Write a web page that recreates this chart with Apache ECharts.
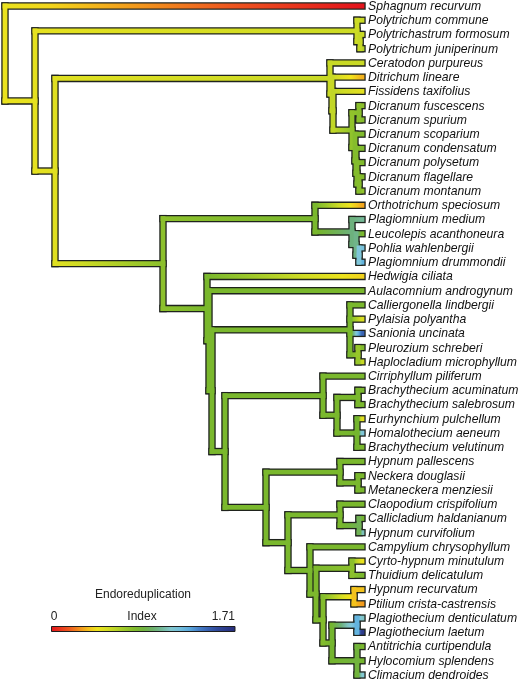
<!DOCTYPE html>
<html>
<head>
<meta charset="utf-8">
<script src="https://cdn.jsdelivr.net/npm/echarts@6/dist/echarts.min.js"></script>
<style>
  html, body { margin: 0; padding: 0; background: #fff; }
  #main { width: 520px; height: 683px; }
</style>
</head>
<body>
<div id="main"></div>
<script>
// tips, top to bottom
var leafNames = [
  'Sphagnum recurvum', 'Polytrichum commune', 'Polytrichastrum formosum', 'Polytrichum juniperinum',
  'Ceratodon purpureus', 'Ditrichum lineare', 'Fissidens taxifolius', 'Dicranum fuscescens',
  'Dicranum spurium', 'Dicranum scoparium', 'Dicranum condensatum', 'Dicranum polysetum',
  'Dicranum flagellare', 'Dicranum montanum', 'Orthotrichum speciosum', 'Plagiomnium medium',
  'Leucolepis acanthoneura', 'Pohlia wahlenbergii', 'Plagiomnium drummondii', 'Hedwigia ciliata',
  'Aulacomnium androgynum', 'Calliergonella lindbergii', 'Pylaisia polyantha', 'Sanionia uncinata',
  'Pleurozium schreberi', 'Haplocladium microphyllum', 'Cirriphyllum piliferum', 'Brachythecium acuminatum',
  'Brachythecium salebrosum', 'Eurhynchium pulchellum', 'Homalothecium aeneum', 'Brachythecium velutinum',
  'Hypnum pallescens', 'Neckera douglasii', 'Metaneckera menziesii', 'Claopodium crispifolium',
  'Callicladium haldanianum', 'Hypnum curvifolium', 'Campylium chrysophyllum', 'Cyrto-hypnum minutulum',
  'Thuidium delicatulum', 'Hypnum recurvatum', 'Ptilium crista-castrensis', 'Plagiothecium denticulatum',
  'Plagiothecium laetum', 'Antitrichia curtipendula', 'Hylocomium splendens', 'Climacium dendroides'
];
// endoreduplication index at each tip
var leafValues = [
  0.00, 0.56, 0.55, 0.62, 0.56, 0.32, 0.47, 0.74,
  0.76, 0.78, 0.78, 0.78, 0.77, 0.72, 0.30, 1.02,
  0.80, 1.18, 1.25, 0.38, 0.80, 0.80, 0.50, 1.45,
  0.78, 0.56, 0.80, 0.80, 0.80, 0.47, 1.15, 0.80,
  0.80, 0.80, 0.80, 0.80, 0.82, 1.08, 0.80, 0.44,
  0.80, 0.35, 0.28, 1.10, 1.62, 0.80, 0.82, 1.12
];
// internal node each tip hangs from
var leafParent = [
  0, 2, 3, 3, 5, 6, 7, 9,
  9, 10, 11, 12, 13, 13, 15, 16,
  17, 18, 18, 19, 20, 22, 22, 22,
  23, 23, 25, 27, 27, 28, 28, 28,
  30, 31, 31, 33, 34, 34, 35, 37,
  37, 39, 39, 41, 41, 42, 42, 42
];
// internal nodes: parent, depth from root, reconstructed index
var nodeParent = [-1, 0, 1, 2, 1, 4, 5, 6, 7, 8, 8, 10, 11, 12, 4, 14, 15, 16, 17, 14, 19, 20,
  21, 22, 21, 24, 25, 26, 26, 24, 29, 30, 29, 32, 33, 32, 35, 36, 36, 38, 38, 40, 40];
var nodeDepth = [0, 30, 352, 355, 50, 325, 327, 328, 347, 354, 350, 351, 352, 354, 158, 310, 347, 351, 354, 202, 204, 207,
  345, 353, 220, 318, 332, 353, 352, 261, 335, 353, 283, 335, 354, 305, 311, 347, 318, 349, 327, 352, 352];
var nodeValue = [0.44, 0.46, 0.55, 0.57, 0.48, 0.56, 0.56, 0.58, 0.72, 0.75, 0.76, 0.77, 0.77, 0.76, 0.74, 0.80, 0.98, 1.00, 1.15, 0.80, 0.80, 0.80,
  0.80, 0.70, 0.80, 0.80, 0.80, 0.80, 0.82, 0.80, 0.80, 0.80, 0.80, 0.80, 0.90, 0.80, 0.79, 0.74, 0.77, 0.35, 0.82, 1.25, 0.85];
var tipDepth = 357;
var indexMax = 1.71;

var ramp = [
  [0, '#e3131b'], [0.1, '#ee5a1f'], [0.17, '#f3a01c'], [0.24, '#f2e41c'],
  [0.32, '#cddb25'], [0.40, '#9cc82a'], [0.48, '#74b52e'], [0.57, '#6cb07a'],
  [0.66, '#85cad8'], [0.74, '#5fb1e0'], [0.82, '#3d70c0'], [0.91, '#2f4596'], [1, '#272c7a']
];

function hexRgb(h) {
  return [parseInt(h.substr(1, 2), 16), parseInt(h.substr(3, 2), 16), parseInt(h.substr(5, 2), 16)];
}
function colorAt(v) {
  var t = Math.max(0, Math.min(1, v / indexMax));
  for (var i = 1; i < ramp.length; i++) {
    if (t <= ramp[i][0]) {
      var a = hexRgb(ramp[i - 1][1]), b = hexRgb(ramp[i][1]);
      var f = (t - ramp[i - 1][0]) / (ramp[i][0] - ramp[i - 1][0]);
      return 'rgb(' + Math.round(a[0] + (b[0] - a[0]) * f) + ',' +
        Math.round(a[1] + (b[1] - a[1]) * f) + ',' + Math.round(a[2] + (b[2] - a[2]) * f) + ')';
    }
  }
  return ramp[ramp.length - 1][1];
}
function branchStops(v1, v2) {
  var s = [];
  for (var k = 0; k <= 8; k++) s.push({ offset: k / 8, color: colorAt(v1 + (v2 - v1) * k / 8) });
  return s;
}

// node y = middle of its outermost children, worked bottom-up
var nodeY = [], childMin = [], childMax = [];
for (var n = nodeParent.length - 1; n >= 0; n--) {
  var ys = [];
  leafParent.forEach(function (p, i) { if (p === n) ys.push(i); });
  nodeParent.forEach(function (p, j) { if (p === n) ys.push(nodeY[j]); });
  childMin[n] = Math.min.apply(null, ys);
  childMax[n] = Math.max.apply(null, ys);
  nodeY[n] = (childMin[n] + childMax[n]) / 2;
}

// segments: [x1, y1, x2, y2, value1, value2]
var segments = [];
leafNames.forEach(function (name, i) {
  var p = leafParent[i];
  segments.push([nodeDepth[p], i, tipDepth, i, nodeValue[p], leafValues[i]]);
});
nodeParent.forEach(function (p, n) {
  if (p >= 0) segments.push([nodeDepth[p], nodeY[n], nodeDepth[n], nodeY[n], nodeValue[p], nodeValue[n]]);
  segments.push([nodeDepth[n], childMin[n], nodeDepth[n], childMax[n], nodeValue[n], nodeValue[n]]);
});

function segmentRenderer(outline) {
  return function (params, api) {
    var a = api.coord([api.value(0), api.value(1)]);
    var b = api.coord([api.value(2), api.value(3)]);
    var v1 = api.value(4), v2 = api.value(5);
    var stroke;
    if (outline) stroke = '#1f231d';
    else if (a[1] === b[1] && v1 !== v2) stroke = new echarts.graphic.LinearGradient(a[0], 0, b[0], 0, branchStops(v1, v2), true);
    else stroke = colorAt(v1);
    return {
      type: 'line',
      shape: { x1: a[0], y1: a[1], x2: b[0], y2: b[1] },
      style: { stroke: stroke, lineWidth: outline ? 7.4 : 4.8, lineCap: 'square' }
    };
  };
}

var legendStops = [];
for (var k = 0; k <= 20; k++) legendStops.push({ offset: k / 20, color: colorAt(indexMax * k / 20) });

var myChart = echarts.init(document.getElementById('main'));
var option = {
  backgroundColor: '#fff',
  animation: false,
  grid: { left: 5, right: 158, top: 6, bottom: 8 },
  xAxis: { type: 'value', min: 0, max: tipDepth, show: false },
  yAxis: { type: 'value', min: 0, max: leafNames.length - 1, inverse: true, show: false },
  series: [
    { type: 'custom', data: segments, renderItem: segmentRenderer(true), silent: true },
    { type: 'custom', data: segments, renderItem: segmentRenderer(false), silent: true },
    {
      type: 'custom',
      silent: true,
      data: leafNames.map(function (n, i) { return [tipDepth, i]; }),
      renderItem: function (params, api) {
        var p = api.coord([api.value(0), api.value(1)]);
        return {
          type: 'text', x: p[0] + 6, y: p[1] + 0.5,
          style: {
            text: leafNames[params.dataIndex], fill: '#111', align: 'left', verticalAlign: 'middle',
            font: 'italic 12.2px "Liberation Sans", Arial, sans-serif'
          }
        };
      }
    }
  ],
  graphic: [
    { type: 'text', x: 143, y: 595, style: { text: 'Endoreduplication', fill: '#222', align: 'center', verticalAlign: 'middle', font: '12px "Liberation Sans", Arial, sans-serif' } },
    { type: 'text', x: 54, y: 617, style: { text: '0', fill: '#222', align: 'center', verticalAlign: 'middle', font: '12px "Liberation Sans", Arial, sans-serif' } },
    { type: 'text', x: 142, y: 617, style: { text: 'Index', fill: '#222', align: 'center', verticalAlign: 'middle', font: '12px "Liberation Sans", Arial, sans-serif' } },
    { type: 'text', x: 235, y: 617, style: { text: '1.71', fill: '#222', align: 'right', verticalAlign: 'middle', font: '12px "Liberation Sans", Arial, sans-serif' } },
    { type: 'rect', shape: { x: 51.5, y: 626.5, width: 183.5, height: 5 },
      style: { fill: new echarts.graphic.LinearGradient(0, 0, 1, 0, legendStops), stroke: '#1d1d1d', lineWidth: 1 } }
  ]
};
if (option && typeof option === 'object') {
  myChart.setOption(option, true);
}
</script>
</body>
</html>
